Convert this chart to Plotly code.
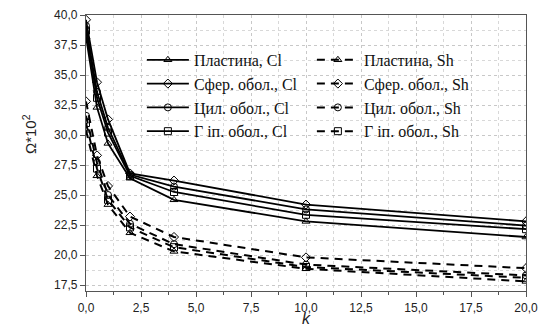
import plotly.graph_objects as go

k = [0, 0.5, 1, 2, 4, 10, 20]

plate_cl = [38.2, 32.3, 29.3, 26.4, 24.6, 22.8, 21.5]
plate_sh = [30.4, 26.6, 24.2, 21.85, 20.3, 18.85, 17.8]
sphere_cl = [39.6, 34.4, 31.3, 26.8, 26.2, 24.2, 22.8]
sphere_sh = [32.8, 28.3, 25.75, 23.2, 21.5, 19.8, 18.9]
cyl_cl = [39.1, 33.6, 30.6, 26.7, 25.7, 23.8, 22.45]
cyl_sh = [31.6, 27.7, 25.0, 22.6, 20.9, 19.2, 18.3]
hyp_cl = [38.7, 33.1, 30.2, 26.6, 25.25, 23.35, 22.15]
hyp_sh = [31.0, 27.2, 24.6, 22.3, 20.65, 19.0, 18.1]

names = ["Пластина, Cl", "Пластина, Sh",
         "Сфер. обол., Cl", "Сфер. обол., Sh",
         "Цил. обол., Cl", "Цил. обол., Sh",
         "Г іп. обол., Cl", "Г іп. обол., Sh"]
series = [plate_cl, plate_sh, sphere_cl, sphere_sh, cyl_cl, cyl_sh, hyp_cl, hyp_sh]
symbols = ["triangle-up-open", "triangle-up-open", "diamond-open", "diamond-open",
           "circle-open", "circle-open", "square-open", "square-open"]

x_title = "k"
y_title = "Ω*10<sup>2</sup>"

fig = go.Figure()
for i, (nm, ys, sym) in enumerate(zip(names, series, symbols)):
    dashed = i % 2 == 1
    fig.add_trace(go.Scatter(
        x=k, y=ys, name=nm, mode="lines+markers",
        line=dict(color="black", width=2 if dashed else 1.8,
                  dash="8px,6px" if dashed else "solid"),
        marker=dict(symbol=sym, size=7, color="black",
                    line=dict(color="black", width=1)),
    ))

axis_common = dict(
    showline=True, linecolor="#555", linewidth=1.3, mirror=True,
    ticks="outside", ticklen=5, tickcolor="#555", tickwidth=1.2,
    showgrid=True, gridcolor="#c8c8c8", griddash="dot", gridwidth=1,
    tickformat=".1f", zeroline=False, automargin=False,
    tickfont=dict(family="Liberation Sans, Arial", size=12, color="#222"),
)

fig.update_xaxes(
    range=[0, 20], dtick=2.5, tick0=0,
    minor=dict(dtick=1.25, showgrid=True, gridcolor="#d8d8d8", griddash="dot",
               ticks="outside", ticklen=3, tickcolor="#555"),
    **axis_common,
)
fig.update_yaxes(
    range=[17.0, 40.0], dtick=2.5, tick0=0,
    minor=dict(dtick=1.25, showgrid=True, gridcolor="#d8d8d8", griddash="dot",
               ticks="", ticklen=3),
    **axis_common,
)

fig.add_annotation(
    text=y_title, xref="paper", yref="paper", x=-0.127, y=0.569,
    xanchor="center", yanchor="middle", textangle=-90, showarrow=False,
    font=dict(family="Liberation Sans, Arial", size=15, color="#222"),
)
fig.add_annotation(
    text="<i>" + x_title + "</i>", xref="paper", yref="paper", x=0.5, y=-0.1,
    xanchor="center", yanchor="middle", showarrow=False, borderpad=0,
    font=dict(family="Liberation Sans, Arial", size=16, color="#222"),
)

# the page body has an 8px default margin, so the figure is 8px smaller
fig.update_layout(
    width=543, height=319,
    margin=dict(l=78, r=25, t=7, b=36),
    paper_bgcolor="white", plot_bgcolor="white",
    separators=", ",
    showlegend=True,
    legend=dict(
        orientation="h", x=0.127, xanchor="left", y=0.899, yanchor="top",
        bgcolor="rgba(0,0,0,0)", borderwidth=0,
        font=dict(family="Liberation Serif, Times New Roman", size=16, color="#111"),
        entrywidth=113, entrywidthmode="pixels", itemwidth=42,
        tracegroupgap=0,
    ),
)

fig.write_html("out.html")
